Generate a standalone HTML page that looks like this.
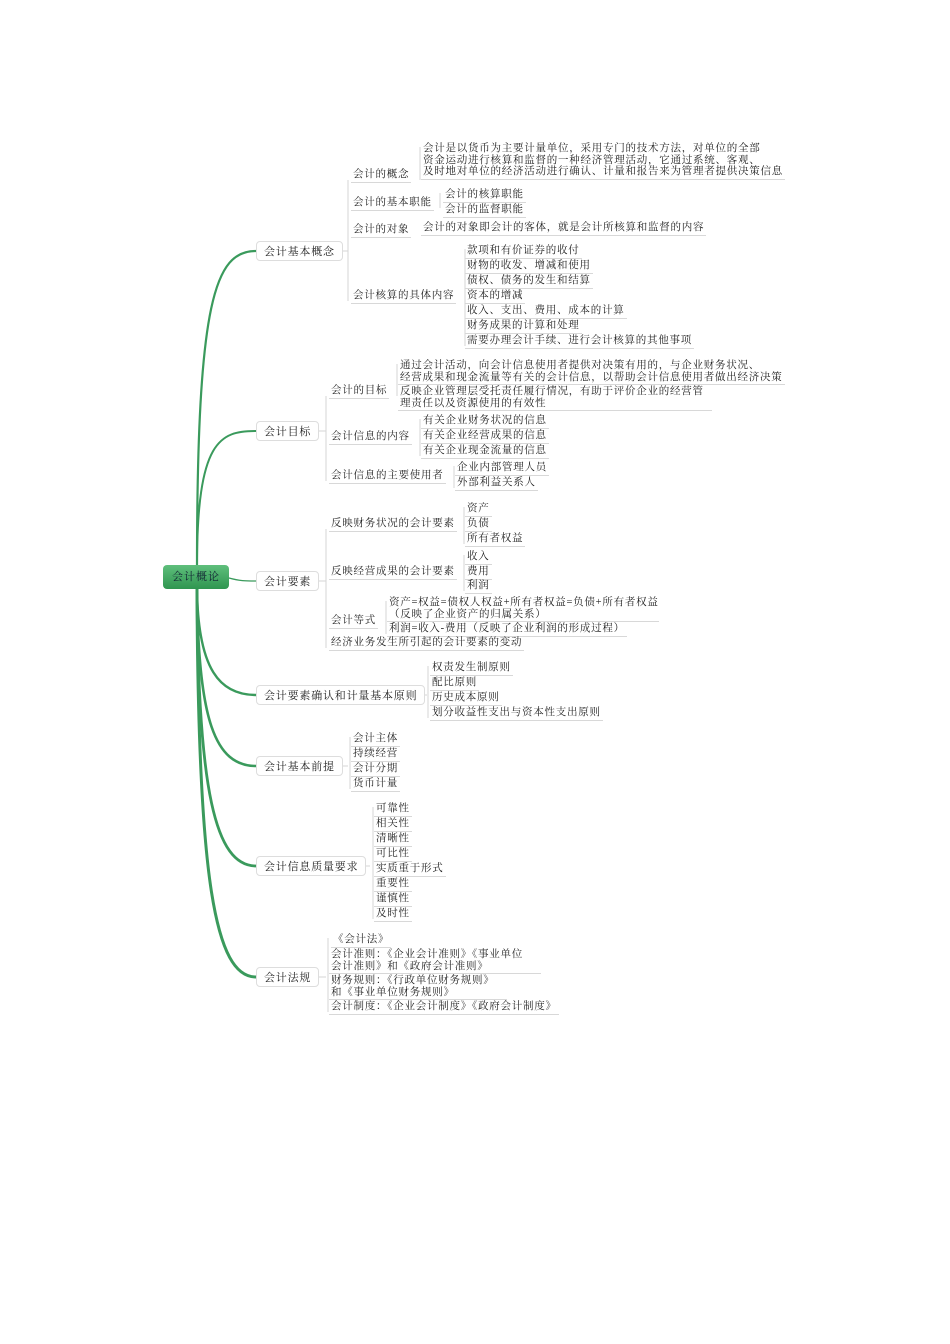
<!DOCTYPE html>
<html><head><meta charset="utf-8">
<style>
body{margin:0;background:#fff;}
#c{position:relative;width:950px;height:1344px;overflow:hidden;font-family:"Liberation Serif","Noto Serif CJK SC",serif;color:#222;}
.t{position:absolute;font-size:10.5px;line-height:11.5px;white-space:nowrap;border-bottom:1px solid #d8d8d8;padding:0 2px 1px 2px;letter-spacing:0.75px;margin-top:2px;}
.b{position:absolute;height:20px;line-height:20px;font-size:11px;border:1px solid #ddd;border-radius:4px;background:#fff;padding:0 7px;white-space:nowrap;letter-spacing:0.8px;box-sizing:border-box;}
.root{position:absolute;left:163px;top:565px;width:66px;height:24px;border-radius:4px;background:linear-gradient(#5fbf7c,#2f9550);color:#123;font-size:11px;line-height:24px;text-align:center;letter-spacing:1px;}
</style></head><body><div id="c">
<svg width="950" height="1344" style="position:absolute;left:0;top:0">
<g fill="none" stroke="#3a9a5c" stroke-linecap="round">
<path d="M197,566 C197,300 215,251 256,251" stroke-width="2.2"/>
<path d="M197,566 C197,440 220,431 256,431" stroke-width="2"/>
<path d="M229,578 C240,581 245,581 256,581" stroke-width="1.2"/>
<path d="M197,589 C198,670 220,695 256,695" stroke-width="2.4"/>
<path d="M197,589 C198,720 215,766 256,766" stroke-width="2.6"/>
<path d="M197,589 C198,790 215,866 256,866" stroke-width="2.8"/>
<path d="M197,589 C198,880 215,977 256,977" stroke-width="3"/>
</g>
<g fill="none" stroke="#d5d5d5" stroke-width="1">
<path d="M340,251 H348 M348,180 V301"/>
<path d="M420,180 V147 M440,208 V193 M465,346 V249"/>
<path d="M318,431 H326 M326,396 V481"/>
<path d="M397,396 V364 M420,456 V419 M454,488 V466"/>
<path d="M318,581 H326 M326,529 V648"/>
<path d="M464,544 V507 M464,591 V555 M386,634 V601"/>
<path d="M419,695 H427 M428,718 V666"/>
<path d="M340,766 H348 M350,789 V737"/>
<path d="M362,866 H370 M373,919 V807"/>
<path d="M318,977 H326 M328,1012 V938"/>
</g>
</svg>
<div class="root">会计概论</div>
<div class="b" style="left:256px;top:241px">会计基本概念</div>
<div class="b" style="left:256px;top:421px">会计目标</div>
<div class="b" style="left:256px;top:571px">会计要素</div>
<div class="b" style="left:256px;top:685px">会计要素确认和计量基本原则</div>
<div class="b" style="left:256px;top:756px">会计基本前提</div>
<div class="b" style="left:256px;top:856px">会计信息质量要求</div>
<div class="b" style="left:256px;top:967px">会计法规</div>

<div class="t" style="left:351px;top:167px">会计的概念</div>
<div class="t" style="left:421px;top:141px;width:360px">会计是以货币为主要计量单位，采用专门的技术方法，对单位的全部<br>资金运动进行核算和监督的一种经济管理活动，它通过系统、客观、<br>及时地对单位的经济活动进行确认、计量和报告来为管理者提供决策信息</div>
<div class="t" style="left:351px;top:195px">会计的基本职能</div>
<div class="t" style="left:443px;top:187px">会计的核算职能</div>
<div class="t" style="left:443px;top:202px">会计的监督职能</div>
<div class="t" style="left:351px;top:222px">会计的对象</div>
<div class="t" style="left:421px;top:220px">会计的对象即会计的客体，就是会计所核算和监督的内容</div>
<div class="t" style="left:351px;top:288px">会计核算的具体内容</div>
<div class="t" style="left:465px;top:243px">款项和有价证券的收付</div>
<div class="t" style="left:465px;top:258px">财物的收发、增减和使用</div>
<div class="t" style="left:465px;top:273px">债权、债务的发生和结算</div>
<div class="t" style="left:465px;top:288px">资本的增减</div>
<div class="t" style="left:465px;top:303px">收入、支出、费用、成本的计算</div>
<div class="t" style="left:465px;top:318px">财务成果的计算和处理</div>
<div class="t" style="left:465px;top:333px">需要办理会计手续、进行会计核算的其他事项</div>

<div class="t" style="left:329px;top:383px">会计的目标</div>
<div class="t" style="left:398px;top:358px">通过会计活动，向会计信息使用者提供对决策有用的，与企业财务状况、<br>经营成果和现金流量等有关的会计信息，以帮助会计信息使用者做出经济决策</div>
<div class="t" style="left:398px;top:384px;width:310px">反映企业管理层受托责任履行情况，有助于评价企业的经营管<br>理责任以及资源使用的有效性</div>
<div class="t" style="left:329px;top:429px">会计信息的内容</div>
<div class="t" style="left:421px;top:413px">有关企业财务状况的信息</div>
<div class="t" style="left:421px;top:428px">有关企业经营成果的信息</div>
<div class="t" style="left:421px;top:443px">有关企业现金流量的信息</div>
<div class="t" style="left:329px;top:468px">会计信息的主要使用者</div>
<div class="t" style="left:455px;top:460px">企业内部管理人员</div>
<div class="t" style="left:455px;top:475px">外部利益关系人</div>

<div class="t" style="left:329px;top:516px">反映财务状况的会计要素</div>
<div class="t" style="left:465px;top:501px">资产</div>
<div class="t" style="left:465px;top:516px">负债</div>
<div class="t" style="left:465px;top:531px">所有者权益</div>
<div class="t" style="left:329px;top:564px">反映经营成果的会计要素</div>
<div class="t" style="left:465px;top:549px">收入</div>
<div class="t" style="left:465px;top:564px">费用</div>
<div class="t" style="left:465px;top:578px">利润</div>
<div class="t" style="left:329px;top:613px">会计等式</div>
<div class="t" style="left:387px;top:595px;width:268px">资产=权益=债权人权益+所有者权益=负债+所有者权益<br>（反映了企业资产的归属关系）</div>
<div class="t" style="left:387px;top:621px">利润=收入-费用（反映了企业利润的形成过程）</div>
<div class="t" style="left:329px;top:635px">经济业务发生所引起的会计要素的变动</div>

<div class="t" style="left:430px;top:660px">权责发生制原则</div>
<div class="t" style="left:430px;top:675px">配比原则</div>
<div class="t" style="left:430px;top:690px">历史成本原则</div>
<div class="t" style="left:430px;top:705px">划分收益性支出与资本性支出原则</div>

<div class="t" style="left:351px;top:731px">会计主体</div>
<div class="t" style="left:351px;top:746px">持续经营</div>
<div class="t" style="left:351px;top:761px">会计分期</div>
<div class="t" style="left:351px;top:776px">货币计量</div>

<div class="t" style="left:374px;top:801px">可靠性</div>
<div class="t" style="left:374px;top:816px">相关性</div>
<div class="t" style="left:374px;top:831px">清晰性</div>
<div class="t" style="left:374px;top:846px">可比性</div>
<div class="t" style="left:374px;top:861px">实质重于形式</div>
<div class="t" style="left:374px;top:876px">重要性</div>
<div class="t" style="left:374px;top:891px">谨慎性</div>
<div class="t" style="left:374px;top:906px">及时性</div>

<div class="t" style="left:331px;top:932px">《会计法》</div>
<div class="t" style="left:329px;top:947px;width:208px">会计准则：《企业会计准则》《事业单位<br>会计准则》和《政府会计准则》</div>
<div class="t" style="left:329px;top:973px;width:174px">财务规则：《行政单位财务规则》<br>和《事业单位财务规则》</div>
<div class="t" style="left:329px;top:999px">会计制度：《企业会计制度》《政府会计制度》</div>
</div></body></html>
